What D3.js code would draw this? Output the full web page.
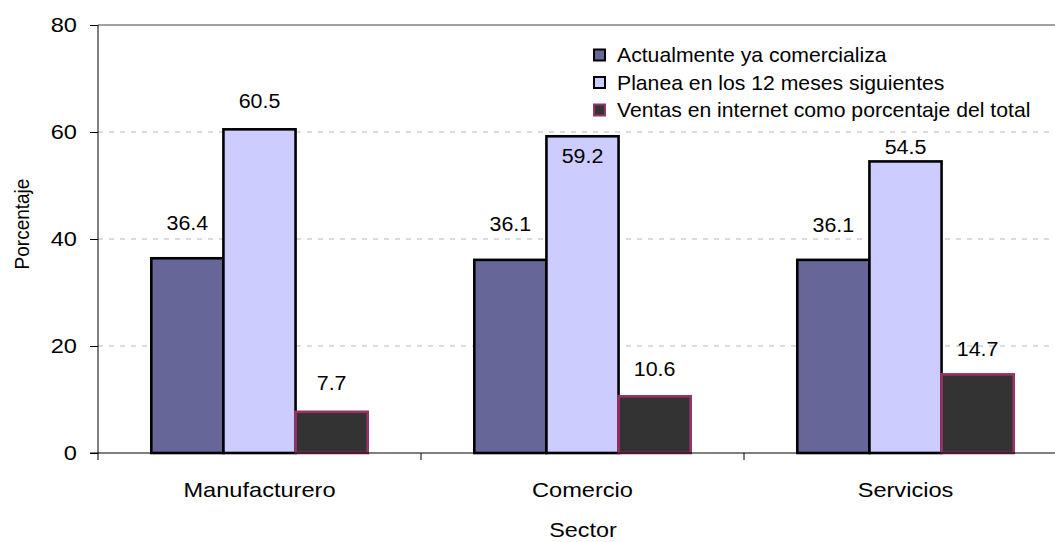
<!DOCTYPE html>
<html>
<head>
<meta charset="utf-8">
<script src="https://cdn.jsdelivr.net/npm/d3@7"></script>
<style>
  html, body { margin: 0; padding: 0; background: #fff; }
  svg { display: block; font-family: "Liberation Sans", Arial, sans-serif; }
</style>
</head>
<body>
<svg id="chart" width="1055" height="542"></svg>
<script>
// Sectors and series
const categories = ["Manufacturero", "Comercio", "Servicios"];
const seriesNames = [
  "Actualmente ya comercializa",
  "Planea en los 12 meses siguientes",
  "Ventas en internet como porcentaje del total"
];
const actual = [36.4, 36.1, 36.1];
const planned = [60.5, 59.2, 54.5];
const onlineShare = [7.7, 10.6, 14.7];
const yTicks = [0, 20, 40, 60, 80];

// Styling per series
const fills = ["#666699", "#ccccff", "#333333"];
const strokes = ["#000000", "#000000", "#993366"];
// Vertical gap between each value label's baseline and its bar top (negative = inside bar)
const labelLift = [[28, 29, 28], [21, -27, 7], [22, 20, 18]];

const values = [actual, planned, onlineShare];
const svg = d3.select("#chart");
const fontSize = 20;

const x0 = d3.scaleBand().domain(categories).range([98, 1067]).paddingInner(0).paddingOuter(0);
const groupPad = 0.33;
const x1 = d3.scaleBand().domain(d3.range(3))
  .range([x0.bandwidth() * groupPad / 2, x0.bandwidth() * (1 - groupPad / 2)]);
const y = d3.scaleLinear().domain([0, 80]).range([453, 25]);

// text drawn with a slight horizontal widening
function label(g, txt, x, yy, anchor, sx, rotate) {
  return g.append("text")
    .attr("transform", `translate(${x},${yy})` + (rotate ? ` rotate(${rotate})` : "") + ` scale(${sx},1)`)
    .attr("text-anchor", anchor)
    .attr("font-size", fontSize)
    .attr("fill", "#000")
    .text(txt);
}

// gridlines
const grid = svg.append("g");
grid.selectAll("line.grid").data(yTicks.filter(t => t > 0 && t < 80)).join("line")
  .attr("x1", 98).attr("x2", 1055)
  .attr("y1", d => y(d)).attr("y2", d => y(d))
  .attr("stroke", "#b8b8b8").attr("stroke-width", 1)
  .attr("stroke-dasharray", "5,6");
grid.append("line")
  .attr("x1", 98).attr("x2", 1055).attr("y1", y(80)).attr("y2", y(80))
  .attr("stroke", "#444").attr("stroke-width", 1);

// bars
const groups = svg.append("g").selectAll("g").data(categories).join("g")
  .attr("transform", d => `translate(${x0(d)},0)`);
groups.each(function (cat, ci) {
  const g = d3.select(this);
  d3.range(3).forEach(si => {
    const v = values[si][ci];
    g.append("rect")
      .attr("x", x1(si)).attr("width", x1.bandwidth())
      .attr("y", y(v)).attr("height", y(0) - y(v))
      .attr("fill", fills[si])
      .attr("stroke", strokes[si]).attr("stroke-width", 2.6);
  });
});

// y axis
const yAxis = d3.axisLeft(y).tickValues(yTicks).tickSize(8).tickPadding(13).tickFormat(d3.format("d"));
const ya = svg.append("g").attr("transform", "translate(98,0)").call(yAxis);
ya.select(".domain").remove();
ya.selectAll(".tick line").attr("stroke", "#000");
ya.selectAll(".tick text").remove();
yTicks.forEach(t => label(svg, String(t), 77, y(t) + 7, "end", 1.18));
svg.append("line").attr("x1", 98).attr("x2", 98).attr("y1", y(80)).attr("y2", 460)
  .attr("stroke", "#000").attr("stroke-width", 1);

// x axis baseline and category separators
svg.append("line").attr("x1", 90).attr("x2", 1055).attr("y1", y(0)).attr("y2", y(0))
  .attr("stroke", "#000").attr("stroke-width", 1);
categories.slice(1).forEach(c => {
  svg.append("line").attr("x1", x0(c)).attr("x2", x0(c)).attr("y1", y(0)).attr("y2", 460)
    .attr("stroke", "#000").attr("stroke-width", 1);
});
categories.forEach(c => label(svg, c, x0(c) + x0.bandwidth() / 2, 497, "middle", 1.18));

// value labels
groups.each(function (cat, ci) {
  const g = d3.select(this);
  d3.range(3).forEach(si => {
    const v = values[si][ci];
    label(g, d3.format(".1f")(v), x1(si) + x1.bandwidth() / 2, y(v) - labelLift[si][ci], "middle", 1.07);
  });
});

// axis titles
label(svg, "Sector", 583, 537, "middle", 1.17);
label(svg, "Porcentaje", 29, 224, "middle", 0.95, -90);

// legend
const legend = svg.append("g").attr("transform", "translate(594,0)");
const legendY = [55, 82.5, 110];
seriesNames.forEach((name, i) => {
  legend.append("rect")
    .attr("x", 0).attr("y", legendY[i] - 5.5).attr("width", 11).attr("height", 11)
    .attr("fill", fills[i]).attr("stroke", strokes[i]).attr("stroke-width", 2);
  label(legend, name, 23, legendY[i] + 7, "start", 1.06);
});
</script>
</body>
</html>
